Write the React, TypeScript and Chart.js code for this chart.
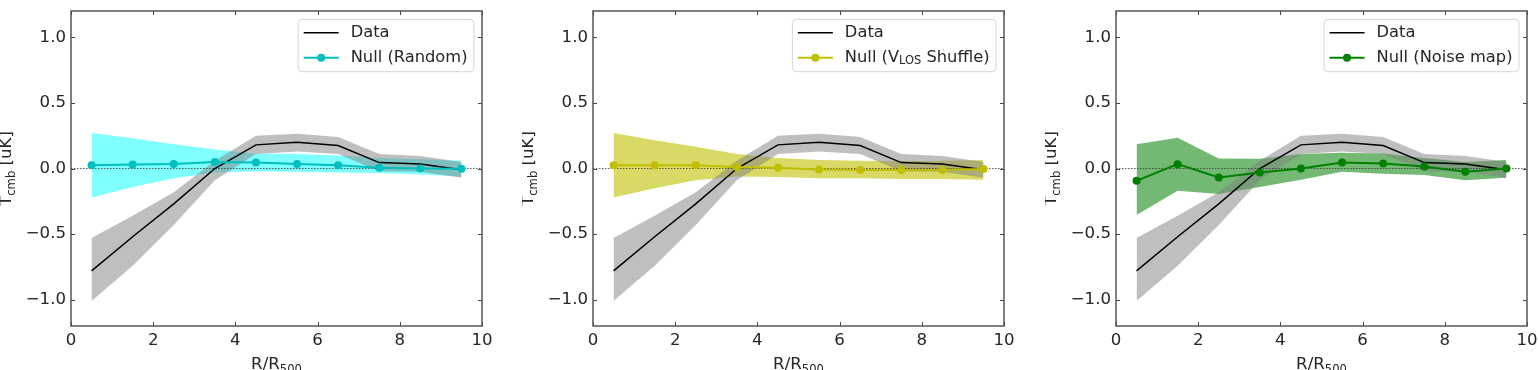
import React, { useEffect, useRef } from "react";
import { Chart, registerables } from "chart.js";

Chart.register(...registerables);

// ---------- data ----------
const X_VALUES = [0.5, 1.5, 2.5, 3.5, 4.5, 5.5, 6.5, 7.5, 8.5, 9.5];
const X_TICKS = [0, 2, 4, 6, 8, 10];
const Y_TICKS = [-1, -0.5, 0, 0.5, 1];
const ZERO_LINE_X = [0, 10];

const DATA_MEAN = [-0.78, -0.52, -0.27, 0.0, 0.18, 0.2, 0.175, 0.045, 0.035, -0.01];
const DATA_UPPER = [-0.53, -0.36, -0.18, 0.06, 0.25, 0.265, 0.24, 0.11, 0.095, 0.05];
const DATA_LOWER = [-1.01, -0.74, -0.43, -0.09, 0.11, 0.13, 0.11, -0.02, -0.025, -0.07];

const RANDOM_MEAN = [0.025, 0.03, 0.035, 0.05, 0.045, 0.035, 0.025, 0.005, 0.0, -0.002];
const RANDOM_UPPER = [0.27, 0.23, 0.185, 0.145, 0.115, 0.11, 0.1, 0.08, 0.07, 0.06];
const RANDOM_LOWER = [-0.22, -0.14, -0.075, -0.03, -0.02, -0.025, -0.03, -0.035, -0.045, -0.06];

const SHUFFLE_MEAN = [0.025, 0.025, 0.025, 0.012, 0.005, -0.008, -0.012, -0.012, -0.012, -0.003];
const SHUFFLE_UPPER = [0.27, 0.215, 0.165, 0.11, 0.08, 0.065, 0.06, 0.055, 0.06, 0.065];
const SHUFFLE_LOWER = [-0.22, -0.15, -0.09, -0.06, -0.065, -0.075, -0.075, -0.08, -0.08, -0.085];

const NOISE_MEAN = [-0.094, 0.033, -0.068, -0.03, 0.0, 0.045, 0.038, 0.015, -0.025, 0.0];
const NOISE_UPPER = [0.185, 0.235, 0.076, 0.075, 0.11, 0.12, 0.115, 0.08, 0.05, 0.065];
const NOISE_LOWER = [-0.355, -0.17, -0.195, -0.14, -0.085, -0.025, -0.04, -0.05, -0.09, -0.07];

const DATA_LABEL = "Data";
const Y_TITLE = "T_{cmb} [uK]";
const X_TITLE = "R/R_{500}";

const PANELS = [
  { label: "Null (Random)", mean: RANDOM_MEAN, upper: RANDOM_UPPER, lower: RANDOM_LOWER, line: "#00BFBF", fill: "rgba(0,255,255,0.5)" },
  { label: "Null (V_{LOS} Shuffle)", mean: SHUFFLE_MEAN, upper: SHUFFLE_UPPER, lower: SHUFFLE_LOWER, line: "#BFBF00", fill: "rgba(191,191,0,0.6)" },
  { label: "Null (Noise map)", mean: NOISE_MEAN, upper: NOISE_UPPER, lower: NOISE_LOWER, line: "#008000", fill: "rgba(0,128,0,0.55)" },
];

// ---------- layout ----------
const CANVAS_LEFTS = [0, 522, 1045];
const Y_AXIS_W = 71;
const PLOT_W = 411;
const RIGHT_PAD = 12;
const CANVAS_W = Y_AXIS_W + PLOT_W + RIGHT_PAD;
const CANVAS_H = 370;
const TOP_PAD = 11;
const X_AXIS_H = 44;
const FONT = "'DejaVu Sans', sans-serif";
const TEXT_COLOR = "#262626";
const TICK_FS = 16.6;
const LEGEND_FS = 16.3;
const TITLE_FS = 16.6;

const pts = (ys: number[]) => ys.map((y, i) => ({ x: X_VALUES[i], y }));
const fmt = (v: number) => (v < 0 ? "\u2212" : "") + Math.abs(v).toFixed(1);

function parseRich(text: string) {
  const parts: { t: string; sub: boolean }[] = [];
  const re = /_\{([^}]*)\}/g;
  let last = 0;
  let m: RegExpExecArray | null;
  while ((m = re.exec(text))) {
    if (m.index > last) parts.push({ t: text.slice(last, m.index), sub: false });
    parts.push({ t: m[1], sub: true });
    last = m.index + m[0].length;
  }
  if (last < text.length) parts.push({ t: text.slice(last), sub: false });
  return parts;
}
function measureRich(ctx: CanvasRenderingContext2D, text: string, size: number) {
  let w = 0;
  for (const p of parseRich(text)) {
    ctx.font = `${p.sub ? size * 0.7 : size}px ${FONT}`;
    w += ctx.measureText(p.t).width;
  }
  return w;
}
function drawRich(ctx: CanvasRenderingContext2D, text: string, x: number, y: number, size: number) {
  let cx = x;
  for (const p of parseRich(text)) {
    const s = p.sub ? size * 0.7 : size;
    ctx.font = `${s}px ${FONT}`;
    ctx.fillText(p.t, cx, p.sub ? y + size * 0.22 : y);
    cx += ctx.measureText(p.t).width;
  }
}

function makeOverlay(panel: any) {
  return {
    id: "overlay",
    afterDatasetsDraw(chart: any) {
      const { ctx, chartArea: a, scales } = chart;
      const x = scales.x, y = scales.y;
      ctx.save();
      // inward ticks on all sides
      ctx.strokeStyle = "#444";
      ctx.lineWidth = 1;
      ctx.beginPath();
      X_TICKS.forEach((v) => {
        const px = Math.round(x.getPixelForValue(v)) + 0.5;
        ctx.moveTo(px, a.bottom); ctx.lineTo(px, a.bottom - 4);
        ctx.moveTo(px, a.top); ctx.lineTo(px, a.top + 4);
      });
      Y_TICKS.forEach((v) => {
        const py = Math.round(y.getPixelForValue(v)) + 0.5;
        ctx.moveTo(a.left, py); ctx.lineTo(a.left + 4, py);
        ctx.moveTo(a.right, py); ctx.lineTo(a.right - 4, py);
      });
      ctx.stroke();
      // frame
      ctx.strokeStyle = "#555";
      ctx.lineWidth = 1.5;
      ctx.strokeRect(a.left, a.top, a.right - a.left, a.bottom - a.top);

      // legend
      const fs = LEGEND_FS;
      const tw = Math.max(measureRich(ctx, DATA_LABEL, fs), measureRich(ctx, panel.label, fs));
      const bw = 5.5 + 35 + 12 + tw + 6.5;
      const bh = 52.4;
      const bx = a.right - 8 - bw;
      const by = a.top + 8.3;
      ctx.beginPath();
      const r = 4;
      ctx.moveTo(bx + r, by);
      ctx.arcTo(bx + bw, by, bx + bw, by + bh, r);
      ctx.arcTo(bx + bw, by + bh, bx, by + bh, r);
      ctx.arcTo(bx, by + bh, bx, by, r);
      ctx.arcTo(bx, by, bx + bw, by, r);
      ctx.closePath();
      ctx.fillStyle = "rgba(255,255,255,0.8)";
      ctx.fill();
      ctx.strokeStyle = "#d5d5d5";
      ctx.lineWidth = 1;
      ctx.stroke();
      const hx0 = bx + 5.5, hx1 = hx0 + 35;
      const r1 = by + 13.4, r2 = by + 38.4;
      ctx.strokeStyle = "#000";
      ctx.lineWidth = 1.5;
      ctx.beginPath(); ctx.moveTo(hx0, r1); ctx.lineTo(hx1, r1); ctx.stroke();
      ctx.strokeStyle = panel.line;
      ctx.lineWidth = 2;
      ctx.beginPath(); ctx.moveTo(hx0, r2); ctx.lineTo(hx1, r2); ctx.stroke();
      ctx.fillStyle = panel.line;
      ctx.beginPath(); ctx.arc((hx0 + hx1) / 2, r2, 4, 0, Math.PI * 2); ctx.fill();
      ctx.fillStyle = TEXT_COLOR;
      ctx.textBaseline = "middle";
      ctx.textAlign = "left";
      drawRich(ctx, DATA_LABEL, hx1 + 12, r1, fs);
      drawRich(ctx, panel.label, hx1 + 12, r2, fs);

      // axis titles
      const ts = TITLE_FS;
      ctx.textBaseline = "alphabetic";
      ctx.fillStyle = TEXT_COLOR;
      const xw = measureRich(ctx, X_TITLE, ts);
      drawRich(ctx, X_TITLE, (a.left + a.right) / 2 - xw / 2, a.bottom + 43, ts);
      ctx.save();
      ctx.translate(a.left - 60, (a.top + a.bottom) / 2);
      ctx.rotate(-Math.PI / 2);
      const yw = measureRich(ctx, Y_TITLE, ts);
      drawRich(ctx, Y_TITLE, -yw / 2, 0, ts);
      ctx.restore();
      ctx.restore();
    },
  };
}

function Panel({ panel, left }: { panel: any; left: number }) {
  const ref = useRef<HTMLCanvasElement | null>(null);
  useEffect(() => {
    if (!ref.current) return;
    const hidden = { borderColor: "rgba(0,0,0,0)", borderWidth: 0, pointRadius: 0, pointHoverRadius: 0 };
    const chart = new Chart(ref.current, {
      type: "line",
      data: {
        datasets: [
          { data: pts(panel.mean), borderColor: panel.line, backgroundColor: panel.line, borderWidth: 2, pointRadius: 4, pointBorderWidth: 0, pointBackgroundColor: panel.line, fill: false, order: 0 },
          { data: pts(DATA_MEAN), borderColor: "#000", borderWidth: 1.5, pointRadius: 0, fill: false, order: 1 },
          { data: ZERO_LINE_X.map((x) => ({ x, y: 0 })), borderColor: "#333", borderWidth: 0.8, borderDash: [1.5, 1.5], pointRadius: 0, fill: false, order: 2 },
          { data: pts(DATA_LOWER), ...hidden, fill: false, order: 3 },
          { data: pts(DATA_UPPER), ...hidden, fill: 3, backgroundColor: "rgba(128,128,128,0.5)", order: 4 },
          { data: pts(panel.lower), ...hidden, fill: false, order: 5 },
          { data: pts(panel.upper), ...hidden, fill: 5, backgroundColor: panel.fill, order: 6 },
        ] as any,
      },
      options: {
        animation: false,
        responsive: false,
        devicePixelRatio: 1,
        events: [],
        layout: { padding: { left: 0, right: RIGHT_PAD, top: TOP_PAD, bottom: 0 } },
        elements: { line: { tension: 0 } },
        plugins: {
          legend: { display: false },
          tooltip: { enabled: false },
          filler: { drawTime: "beforeDatasetsDraw" },
        } as any,
        scales: {
          x: {
            type: "linear",
            min: 0,
            max: 10,
            afterBuildTicks: (s: any) => { s.ticks = X_TICKS.map((v) => ({ value: v })); },
            afterFit: (s: any) => { s.height = X_AXIS_H; s.paddingLeft = 0; s.paddingRight = 0; s.paddingTop = 0; s.paddingBottom = 0; },
            ticks: { font: { family: FONT, size: TICK_FS }, color: TEXT_COLOR, padding: 5, maxRotation: 0, minRotation: 0, autoSkip: false, includeBounds: false, callback: (v: any) => String(v) },
            grid: { display: false, drawTicks: false },
            border: { display: false },
          },
          y: {
            type: "linear",
            min: -1.2,
            max: 1.2,
            afterBuildTicks: (s: any) => { s.ticks = Y_TICKS.map((v) => ({ value: v })); },
            afterFit: (s: any) => { s.width = Y_AXIS_W; s.paddingTop = 0; s.paddingBottom = 0; s.paddingLeft = 0; s.paddingRight = 0; },
            ticks: { font: { family: FONT, size: TICK_FS }, color: TEXT_COLOR, padding: 5, autoSkip: false, includeBounds: false, callback: (v: any) => fmt(Number(v)) },
            grid: { display: false, drawTicks: false },
            border: { display: false },
          },
        } as any,
      },
      plugins: [makeOverlay(panel)],
    } as any);
    return () => chart.destroy();
  }, [panel]);
  return (
    <canvas
      ref={ref}
      width={CANVAS_W}
      height={CANVAS_H}
      style={{ position: "absolute", left, top: 0, width: CANVAS_W, height: CANVAS_H }}
    />
  );
}

export default function App() {
  return (
    <div style={{ position: "fixed", left: 0, top: 0, width: 1538, height: 370, background: "#fff", overflow: "hidden" }}>
      {PANELS.map((p, i) => (
        <Panel key={i} panel={p} left={CANVAS_LEFTS[i]} />
      ))}
    </div>
  );
}
